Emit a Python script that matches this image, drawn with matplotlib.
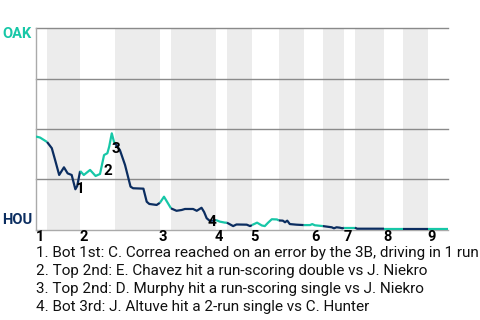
import matplotlib
matplotlib.use("Agg")
import matplotlib.pyplot as plt
import matplotlib.transforms as mtransforms
import numpy as np

plt.rcParams['font.family'] = ['Roboto', 'DejaVu Sans']

# colors
TEAL = '#17c7a7'
NAVY = '#0b2d60'
GRID = '#8a8a8a'
BAND = '#ececec'

# win probability for OAK, by game event
event_x = [0, 1.1, 3.0, 4.3, 5.2, 6.3, 7.6, 8.6, 9.7, 10.7, 11.2, 12.0,
           13.0, 14.7, 16.2, 17.4, 18.5, 19.4, 19.9, 20.6, 21.2, 21.5,
           22.8, 24.2, 25.7, 26.4, 29.2, 30.1, 30.8, 32.8, 33.7, 34.8, 36.7,
           38.2, 39.6, 40.5, 42.7, 43.7, 45.0, 45.7, 46.4, 47.3, 48.9,
           50.0, 51.4, 51.9, 53.6, 54.5, 57.3, 58.2, 58.7, 60.1, 61.4, 62.2,
           63.1, 64.1, 65.5, 66.0, 67.1, 67.7, 68.3, 69.0, 70.8, 72.8,
           74.5, 75.1, 75.8, 78.0, 80.4, 81.0, 81.7, 82.6, 83.3, 83.7,
           86.7, 87.3, 94.6, 99.7, 106.5, 112]
oak_wp = [0.462, 0.457, 0.435, 0.404, 0.345, 0.271, 0.309, 0.279, 0.271, 0.200, 0.216, 0.291,
          0.271, 0.296, 0.266, 0.276, 0.370, 0.379, 0.412, 0.478, 0.436, 0.428,
          0.395, 0.321, 0.213, 0.205, 0.203, 0.138, 0.127, 0.122, 0.133, 0.163, 0.105,
          0.093, 0.097, 0.102, 0.102, 0.093, 0.108, 0.087, 0.056, 0.042, 0.047,
          0.039, 0.034, 0.034, 0.017, 0.025, 0.024, 0.017, 0.022, 0.034, 0.020, 0.017,
          0.034, 0.051, 0.050, 0.045, 0.044, 0.036, 0.044, 0.027, 0.024, 0.022,
          0.022, 0.027, 0.021, 0.017, 0.011, 0.006, 0.011, 0.009, 0.006, 0.009,
          0.009, 0.004, 0.004, 0.004, 0.004, 0.004]

# half-inning boundaries (top/bottom alternate)
half_innings = [0, 3.0, 12.0, 21.5, 33.7, 36.7, 48.9, 51.9, 58.7, 66.0,
                72.8, 78.0, 83.7, 86.7, 94.6, 99.7, 106.5, 112]

innings = ['1', '2', '3', '4', '5', '6', '7', '8', '9']
inning_label_x = [1.1, 13.0, 34.5, 49.7, 59.5, 76.1, 84.8, 95.7, 107.6]

marker_labels = ['1', '2', '3', '4']
marker_x = [12.0, 19.6, 21.7, 47.9]
marker_y = [0.201, 0.291, 0.40, 0.039]

notes = [
    "1. Bot 1st: C. Correa reached on an error by the 3B, driving in 1 run vs J. Niekro",
    "2. Top 2nd: E. Chavez hit a run-scoring double vs J. Niekro",
    "3. Top 2nd: D. Murphy hit a run-scoring single vs J. Niekro",
    "4. Bot 3rd: J. Altuve hit a 2-run single vs C. Hunter",
]

fig = plt.figure(figsize=(4.8, 3.2), dpi=100)
ax = fig.add_axes([0.075, 0.2828, 0.8583, 0.6288])

# shaded bottom halves
for i in range(1, len(half_innings) - 1, 2):
    ax.axvspan(half_innings[i], half_innings[i + 1], color=BAND, lw=0, zorder=0)

for gy in [0.25, 0.5, 0.75, 1.0]:
    ax.axhline(gy, color=GRID, lw=1.0, zorder=1, clip_on=False)

x = np.array(event_x)
y = np.array(oak_wp)
for i in range(len(half_innings) - 1):
    lo, hi = half_innings[i], half_innings[i + 1]
    m = (x >= lo - 1e-9) & (x <= hi + 1e-9)
    ax.plot(x[m], y[m], color=TEAL if i % 2 == 0 else NAVY, lw=1.6,
            solid_capstyle='butt', zorder=3)

for lab, mx, my in zip(marker_labels, marker_x, marker_y):
    ax.text(mx, my, lab, ha='center', va='center', fontsize=11,
            fontweight='bold', color='black', zorder=5)

trans = mtransforms.blended_transform_factory(ax.transData, ax.transAxes)
for lab, lx in zip(innings, inning_label_x):
    ax.text(lx, -0.037, lab, transform=trans, ha='center', va='center',
            fontsize=10.5, fontweight='bold', color='black', clip_on=False)

ax.set_xlim(0, 112)
ax.set_ylim(0, 1)
for s in ['top', 'right']:
    ax.spines[s].set_visible(False)
ax.spines['left'].set_color('#aaaaaa')
ax.spines['bottom'].set_color('#aaaaaa')
ax.spines['left'].set_linewidth(1.0)
ax.spines['bottom'].set_linewidth(1.0)
ax.set_xticks([])
ax.set_yticks([])

fig.text(2 / 480, 1 - 33.8 / 320, 'OAK', ha='left', va='center', fontsize=10.5,
         fontweight='bold', color=TEAL)
fig.text(2 / 480, 1 - 219.5 / 320, 'HOU', ha='left', va='center', fontsize=10.5,
         fontweight='bold', color=NAVY)

for k, note in enumerate(notes):
    fig.text(36 / 480, 1 - (253 + 18 * k) / 320, note, ha='left', va='center',
             fontsize=11, color='#111111')

fig.savefig('out.png', dpi=100)
